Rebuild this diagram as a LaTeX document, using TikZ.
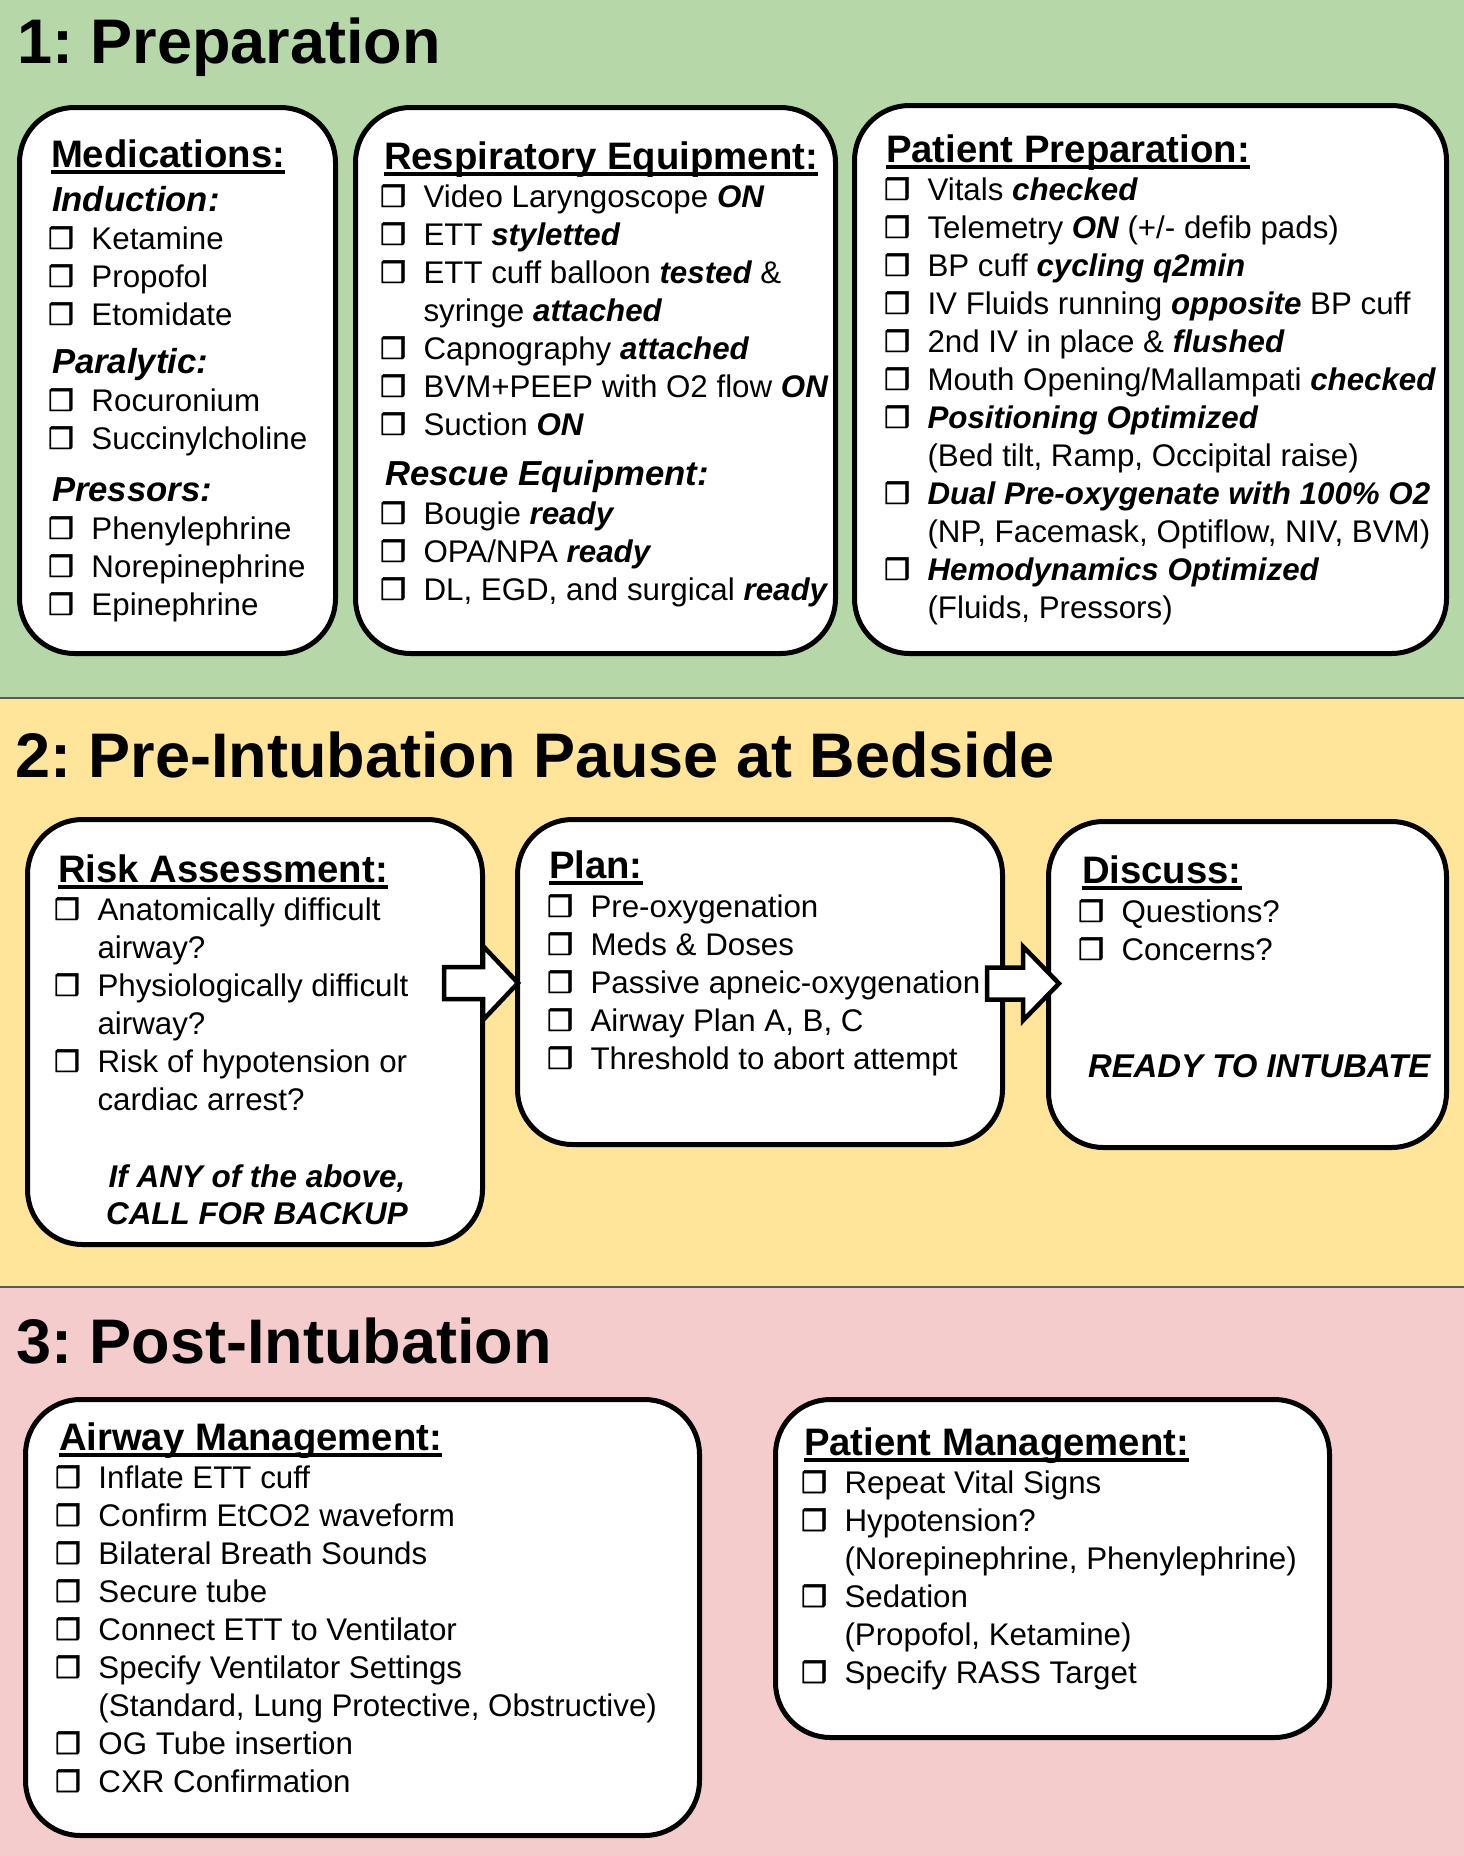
\documentclass[tikz,border=0pt]{standalone}
\usepackage{fontspec}
\setmainfont{Liberation Sans}
\newfontfamily\dvfont[FakeBold=1.6]{DejaVu Sans}
\usetikzlibrary{calc}
\frenchspacing
\definecolor{sgreen}{HTML}{B6D7A8}
\definecolor{syellow}{HTML}{FFE599}
\definecolor{spink}{HTML}{F4CCCC}
\definecolor{sepgray}{HTML}{595959}
\newcommand\cbx{\makebox[43.5pt][l]{\dvfont\fontsize{29}{38}\selectfont ❒}}
\newcommand\cbsp{\hspace*{43.5pt}}
\newcommand\bi[1]{{\bfseries\itshape #1}}
\newcommand\ulhd[1]{{\fontsize{38.3}{38}\selectfont\bfseries\setbox0\hbox{#1}\rlap{\rule[-6.5pt]{\wd0}{4pt}}\box0}}
\newcommand\subhd[1]{{\fontsize{34.7}{38}\selectfont\bfseries\itshape #1}}
\newenvironment{blist}{\begin{minipage}[t]{640pt}\frenchspacing\fontsize{31.3}{38}\selectfont\lineskiplimit=-100pt\lineskip=0pt\raggedright}{\end{minipage}}
\tikzset{
  box/.style={draw=black, line width=5pt, fill=white, rounded corners=55pt, inner sep=0pt, outer sep=0pt, anchor=north west},
  sectitle/.style={anchor=base west, inner sep=0pt, font=\fontsize{63}{70}\selectfont\bfseries\frenchspacing},
  txt/.style={anchor=base west, inner sep=0pt, outer sep=0pt},
  barrow/.style={draw=black, fill=white, line width=4.5pt, line join=miter},
  sepline/.style={draw=sepgray, line width=1.5pt}
}
\begin{document}
\begin{tikzpicture}[x=1pt,y=-1pt]
\useasboundingbox (0,0) rectangle (1464,1856);
% backgrounds
\fill[sgreen] (0,0) rectangle (1464,698);
\fill[syellow] (0,698) rectangle (1464,1287);
\fill[spink] (0,1287) rectangle (1464,1856);
\draw[sepline] (0,698) -- (1464,698);
\draw[sepline] (0,1287) -- (1464,1287);
% section titles
\node[sectitle] (t1) at (17,63) {1: Preparation};
\node[sectitle] (t2) at (15,777) {2: Pre-Intubation Pause at Bedside};
\node[sectitle] (t3) at (16,1363) {3: Post-Intubation};
% boxes
\node[box, minimum width=316pt, minimum height=546pt] (meds) at (19.5,107.5) {};
\node[box, minimum width=480pt, minimum height=546pt] (resp) at (355.5,107.5) {};
\node[box, minimum width=592pt, minimum height=548pt] (pprep) at (854.5,105.5) {};
\node[box, minimum width=455pt, minimum height=425pt] (risk) at (27.5,819.5) {};
\node[box, minimum width=485pt, minimum height=325pt] (plan) at (517.5,819.5) {};
\node[box, minimum width=398pt, minimum height=326pt] (discuss) at (1048.5,821.5) {};
\node[box, minimum width=674pt, minimum height=436pt] (airway) at (25.5,1399.5) {};
\node[box, minimum width=554pt, minimum height=338pt] (pmgmt) at (775.5,1399.5) {};
% texts section 1
\node[txt] (medsT) at (48,167) {\begin{blist}
\hspace*{3pt}\ulhd{Medications:}\\[6pt]
\hspace*{4pt}\subhd{Induction:}\\
\cbx Ketamine\\
\cbx Propofol\\
\cbx Etomidate\\[10pt]
\hspace*{4pt}\subhd{Paralytic:}\\
\cbx Rocuronium\\
\cbx Succinylcholine\\[14pt]
\hspace*{4pt}\subhd{Pressors:}\\
\cbx Phenylephrine\\
\cbx Norepinephrine\\
\cbx Epinephrine
\end{blist}};
\node[txt] (respT) at (380,169) {\begin{blist}
\hspace*{4pt}\ulhd{Respiratory Equipment:}\\
\cbx Video Laryngoscope \bi{ON}\\
\cbx ETT \bi{styletted}\\
\cbx ETT cuff balloon \bi{tested} \&\\
\cbsp syringe \bi{attached}\\
\cbx Capnography \bi{attached}\\
\cbx BVM+PEEP with O2 flow \bi{ON}\\
\cbx Suction \bi{ON}\\[12pt]
\hspace*{5pt}\subhd{Rescue Equipment:}\\[1pt]
\cbx Bougie \bi{ready}\\
\cbx OPA/NPA \bi{ready}\\
\cbx DL, EGD, and surgical \bi{ready}
\end{blist}};
\node[txt] (pprepT) at (884,162) {\begin{blist}
\hspace*{2pt}\ulhd{Patient Preparation:}\\
\cbx Vitals \bi{checked}\\
\cbx Telemetry \bi{ON} (+/- defib pads)\\
\cbx BP cuff \bi{cycling q2min}\\
\cbx IV Fluids running \bi{opposite} BP cuff\\
\cbx 2nd IV in place \& \bi{flushed}\\
\cbx Mouth Opening/Mallampati \bi{checked}\\
\cbx \bi{Positioning Optimized}\\
\cbsp (Bed tilt, Ramp, Occipital raise)\\
\cbx \bi{Dual Pre-oxygenate with 100\% O2}\\
\cbsp (NP, Facemask, Optiflow, NIV, BVM)\\
\cbx \bi{Hemodynamics Optimized}\\
\cbsp (Fluids, Pressors)
\end{blist}};
% texts section 2
\node[txt] (riskT) at (54,882) {\begin{blist}
\hspace*{4pt}\ulhd{Risk Assessment:}\\
\cbx Anatomically difficult\\
\cbsp airway?\\
\cbx Physiologically difficult\\
\cbsp airway?\\
\cbx Risk of hypotension or\\
\cbsp cardiac arrest?
\end{blist}};
\node[anchor=base, inner sep=0pt] (backup) at (257,1187) {\begin{minipage}[t]{420pt}\centering\frenchspacing\fontsize{31.4}{37}\selectfont\lineskiplimit=-100pt\lineskip=0pt\bfseries\itshape If ANY of the above,\\CALL FOR BACKUP\end{minipage}};
\node[txt] (planT) at (547,878) {\begin{blist}
\hspace*{2pt}\ulhd{Plan:}\\[1pt]
\cbx Pre-oxygenation\\
\cbx Meds \& Doses\\
\cbx Passive apneic-oxygenation\\
\cbx Airway Plan A, B, C\\
\cbx Threshold to abort attempt
\end{blist}};
\node[txt] (discussT) at (1078,883) {\begin{blist}
\hspace*{4pt}\ulhd{Discuss:}\\[1pt]
\cbx Questions?\\
\cbx Concerns?
\end{blist}};
\node[txt, font=\fontsize{32.9}{38}\selectfont\bfseries\itshape] (ready) at (1088,1077) {READY TO INTUBATE};
% texts section 3
\node[txt] (airwayT) at (55,1450) {\begin{blist}
\hspace*{4pt}\ulhd{Airway Management:}\\
\cbx Inflate ETT cuff\\
\cbx Confirm EtCO2 waveform\\
\cbx Bilateral Breath Sounds\\
\cbx Secure tube\\
\cbx Connect ETT to Ventilator\\
\cbx Specify Ventilator Settings\\
\cbsp (Standard, Lung Protective, Obstructive)\\
\cbx OG Tube insertion\\
\cbx CXR Confirmation
\end{blist}};
\node[txt] (pmgmtT) at (801,1455) {\begin{blist}
\hspace*{3pt}\ulhd{Patient Management:}\\
\cbx Repeat Vital Signs\\
\cbx Hypotension?\\
\cbsp (Norepinephrine, Phenylephrine)\\
\cbx Sedation\\
\cbsp (Propofol, Ketamine)\\
\cbx Specify RASS Target
\end{blist}};
% block arrows
\draw[barrow] ($(plan.west)+(0.5,1)$) -- ++(-35,-37) -- ++(0,21) -- ++(-39,0) -- ++(0,32) -- ++(39,0) -- ++(0,21) -- cycle;
\draw[barrow] ($(discuss.west)+(10.5,-1)$) -- ++(-36,-37) -- ++(0,21) -- ++(-36,0) -- ++(0,32) -- ++(36,0) -- ++(0,21) -- cycle;
\end{tikzpicture}
\end{document}
